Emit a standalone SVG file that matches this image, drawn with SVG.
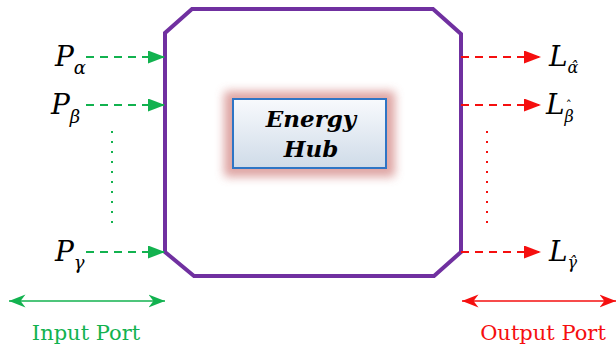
<svg xmlns="http://www.w3.org/2000/svg" width="616" height="351" viewBox="0 0 616 351">
<style>
.in{stroke:#12b24f;stroke-width:2;fill:none}
.out{stroke:#f50f0f;stroke-width:2;fill:none}
.dash{stroke-dasharray:8 6}
.ser{font-family:'DejaVu Serif','Liberation Serif',serif}
.lbl{font-style:italic;fill:#000}
.port{font-size:21px}
</style>
<defs>
<marker id="ag" viewBox="0 0 10 10" refX="10" refY="5" markerWidth="8.5" markerHeight="6.5" preserveAspectRatio="none" orient="auto-start-reverse"><path d="M0,0 L10,5 L0,10 Z" fill="#12b24f"/></marker>
<marker id="agb" viewBox="0 0 10 10" refX="10" refY="5" markerWidth="11" markerHeight="8.7" preserveAspectRatio="none" orient="auto-start-reverse"><path d="M0,0 L10,5 L0,10 L3,5 Z" fill="#12b24f"/></marker>
<marker id="ar" viewBox="0 0 10 10" refX="10" refY="5" markerWidth="8.5" markerHeight="6.5" preserveAspectRatio="none" orient="auto-start-reverse"><path d="M0,0 L10,5 L0,10 Z" fill="#f50f0f"/></marker>
<marker id="arb" viewBox="0 0 10 10" refX="10" refY="5" markerWidth="11" markerHeight="8.7" preserveAspectRatio="none" orient="auto-start-reverse"><path d="M0,0 L10,5 L0,10 L3,5 Z" fill="#f50f0f"/></marker>
<linearGradient id="bg" x1="0" y1="0" x2="0" y2="1"><stop offset="0" stop-color="#f8fafd"/><stop offset="1" stop-color="#cfdbe8"/></linearGradient>
<filter id="glow" x="-30%" y="-40%" width="160%" height="180%"><feGaussianBlur stdDeviation="5"/></filter>
</defs>
<g id="hub-frame">
<path d="M192,9 L433,9 L461,34 L461,252 L434,276 L194,276 L165,252 L165,33 Z" fill="#fff" stroke="#7030a0" stroke-width="4" stroke-linejoin="miter"/>
</g>
<g id="energy-hub" class="ser">
<rect x="224" y="91" width="171" height="86" rx="4" fill="#d99694" opacity="0.85" filter="url(#glow)"/>
<rect x="233" y="99" width="153" height="69" fill="url(#bg)" stroke="#2e75c5" stroke-width="2"/>
<text x="311" y="127" text-anchor="middle" class="lbl" font-weight="bold" font-size="23">Energy</text>
<text x="311" y="157" text-anchor="middle" class="lbl" font-weight="bold" font-size="23">Hub</text>
</g>
<g id="connectors">
<line x1="86" y1="57" x2="165" y2="57" class="in dash" marker-end="url(#ag)"/>
<line x1="86" y1="105" x2="165" y2="105" class="in dash" marker-end="url(#ag)"/>
<line x1="86" y1="252" x2="165" y2="252" class="in dash" marker-end="url(#ag)"/>
<line x1="112" y1="131" x2="112" y2="224" stroke="#12b24f" stroke-width="2" stroke-dasharray="2 8"/>
<line x1="461" y1="57" x2="541" y2="57" class="out dash" marker-end="url(#ar)"/>
<line x1="461" y1="105" x2="541" y2="105" class="out dash" marker-end="url(#ar)"/>
<line x1="461" y1="252" x2="541" y2="252" class="out dash" marker-end="url(#ar)"/>
<line x1="487" y1="131" x2="487" y2="224" stroke="#f50f0f" stroke-width="2" stroke-dasharray="2 8"/>
<line x1="9" y1="301" x2="165" y2="301" stroke="#12b24f" stroke-width="1.5" marker-start="url(#agb)" marker-end="url(#agb)"/>
<line x1="462" y1="301" x2="616" y2="301" stroke="#f50f0f" stroke-width="1.5" marker-start="url(#arb)" marker-end="url(#arb)"/>
</g>
<g id="input-labels" class="ser">
<text x="55" y="66" class="lbl" font-size="28">P<tspan font-size="18" dy="8">α</tspan></text>
<text x="51" y="114" class="lbl" font-size="28">P<tspan font-size="18" dy="9">β</tspan></text>
<text x="55" y="261" class="lbl" font-size="28">P<tspan font-size="18" dy="8">γ</tspan></text>
</g>
<g id="output-labels" class="ser">
<text x="549" y="66" class="lbl" font-size="28">L<tspan font-size="16" dy="7">α̂</tspan></text>
<text x="546" y="114" class="lbl" font-size="28">L<tspan font-size="16" dy="8">β</tspan><tspan font-size="12" font-style="normal" dx="-8" dy="-12">ˆ</tspan></text>
<text x="549" y="261" class="lbl" font-size="28">L<tspan font-size="16" dy="7">γ̂</tspan></text>
</g>
<g id="ports" class="ser">
<text x="86" y="340" text-anchor="middle" class="port" fill="#12b24f">Input Port</text>
<text x="543" y="340" text-anchor="middle" class="port" fill="#f50f0f">Output Port</text>
</g>
</svg>
